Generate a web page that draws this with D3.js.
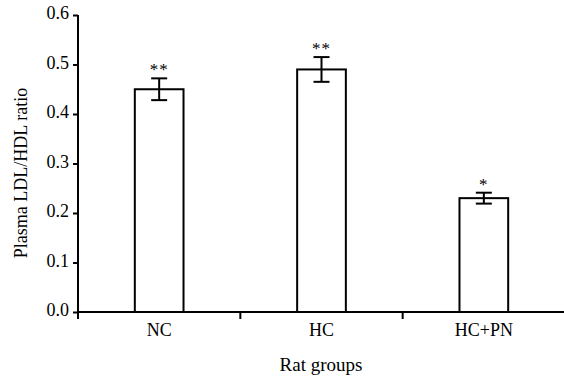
<!DOCTYPE html>
<html>
<head>
<meta charset="utf-8">
<script src="https://cdn.jsdelivr.net/npm/d3@7"></script>
<style>
  body { margin: 0; background: #fff; }
  svg text { font-family: "Liberation Serif", "Times New Roman", Times, serif; fill: #000; }
</style>
</head>
<body>
<div id="chart"></div>
<script>
"use strict"

const groups = ["NC", "HC", "HC+PN"];
const ratios = [0.45, 0.49, 0.23];
const errors = [0.022, 0.025, 0.011];
const marks = ["**", "**", "*"];
const yTicks = [0.0, 0.1, 0.2, 0.3, 0.4, 0.5, 0.6];

const width = 564, height = 379;
const margin = {top: 15, right: 0, bottom: 67, left: 78};

let svg = (
  d3.select("#chart")
    .append("svg")
    .attr("width", width)
    .attr("height", height));

let x = d3.scaleBand()
  .domain(groups)
  .range([margin.left, width + 1])
  .paddingInner(0.7)
  .paddingOuter(0.35);

// band used for the separator ticks
let xCat = d3.scaleBand()
  .domain(groups)
  .range([margin.left, width + 1]);

let y = d3.scaleLinear()
  .domain([0, 0.6])
  .range([height - margin.bottom, margin.top]);

// Bars
(svg
  .selectAll("rect.bar")
    .data(groups)
  .enter()
    .append("rect")
      .attr("class", "bar")
      .attr("x", d => x(d))
      .attr("y", (d, i) => y(ratios[i]))
      .attr("width", x.bandwidth())
      .attr("height", (d, i) => y(0) - y(ratios[i]))
      .attr("fill", "#fff")
      .attr("stroke", "#000")
      .attr("stroke-width", 2)
);

// Error bars
let cap = 8;
groups.forEach((g, i) => {
  let cx = x(g) + x.bandwidth() / 2;
  let top = y(ratios[i] + errors[i]);
  let bot = y(ratios[i] - errors[i]);
  let eb = svg.append("g").attr("stroke", "#000").attr("stroke-width", 2);
  eb.append("line").attr("x1", cx).attr("x2", cx).attr("y1", top).attr("y2", bot);
  eb.append("line").attr("x1", cx - cap).attr("x2", cx + cap).attr("y1", top).attr("y2", top);
  eb.append("line").attr("x1", cx - cap).attr("x2", cx + cap).attr("y1", bot).attr("y2", bot);
  svg.append("text")
    .attr("x", cx)
    .attr("y", top - 3)
    .attr("text-anchor", "middle")
    .style("font-size", "17px")
    .style("letter-spacing", "1px")
    .text(marks[i]);
});

// Y axis
let yAxis = d3.axisLeft(y)
  .tickValues(yTicks)
  .tickFormat(d3.format(".1f"))
  .tickSize(5)
  .tickPadding(4);
let gy = svg.append("g")
  .attr("transform", `translate(${margin.left},0)`)
  .call(yAxis);
gy.select(".domain").attr("stroke-width", 2).attr("d", `M0,${margin.top}V${y(0) + 7}`);
gy.selectAll(".tick line").attr("stroke-width", 2);
gy.selectAll(".tick text").style("font-size", "18px").attr("dy", "0.2em");

// X axis line
svg.append("line")
  .attr("x1", margin.left)
  .attr("x2", width)
  .attr("y1", y(0))
  .attr("y2", y(0))
  .attr("stroke", "#000")
  .attr("stroke-width", 2);

// Separator ticks between categories
(svg
  .selectAll("line.sep")
    .data(groups.slice(1))
  .enter()
    .append("line")
      .attr("class", "sep")
      .attr("x1", d => xCat(d))
      .attr("x2", d => xCat(d))
      .attr("y1", y(0))
      .attr("y2", y(0) + 7)
      .attr("stroke", "#000")
      .attr("stroke-width", 2)
);

// Category labels
(svg
  .selectAll("text.cat")
    .data(groups)
  .enter()
    .append("text")
      .attr("class", "cat")
      .attr("x", d => x(d) + x.bandwidth() / 2)
      .attr("y", 336)
      .attr("text-anchor", "middle")
      .style("font-size", "18px")
      .text(d => d)
);

// Axis titles
svg.append("text")
  .attr("x", (margin.left + width) / 2)
  .attr("y", 371)
  .attr("text-anchor", "middle")
  .style("font-size", "19px")
  .text("Rat groups");

svg.append("text")
  .attr("transform", "translate(27,173) rotate(-90)")
  .attr("text-anchor", "middle")
  .style("font-size", "18px")
  .text("Plasma LDL/HDL ratio");
</script>
</body>
</html>
